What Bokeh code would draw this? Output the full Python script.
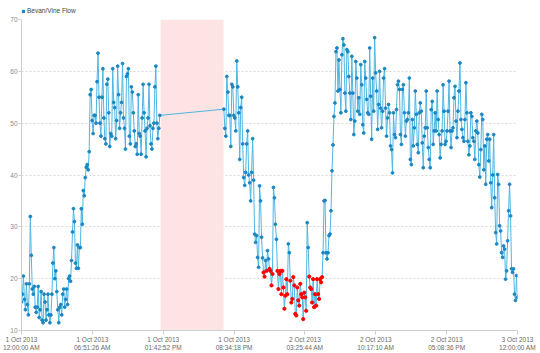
import numpy as np
import pandas as pd
from bokeh.plotting import figure
from bokeh.layouts import column
from bokeh.models import (ColumnDataSource, Range1d, FixedTicker, BoxAnnotation,
                          Legend, LegendItem)
from bokeh.embed import file_html
from bokeh.resources import INLINE

SERIES_NAME = "Bevan/Vine Flow"

X_START = "2013-10-01 00:00:00"
X_END = "2013-10-03 00:00:00"

SEG1_START = "2013-10-01 00:00:00"
SEG1_END = "2013-10-01 13:23:00"
SEG1_VALUES = [
    15.5, 17, 20.5, 16, 14, 19, 15, 13, 19, 32, 24.5, 18, 17, 18.5, 14.5, 13.5,
    14.5, 18.5, 12.5, 14, 17.5, 12, 11.5, 17, 15.5, 12, 14, 17, 13, 11.5, 13, 17,
    23, 26, 20, 21.5, 17.5, 14, 11.5, 14.5, 15, 13, 17, 18, 14.5, 16, 18, 15,
    20, 20.5, 19.5, 23.5, 29, 33.5, 31, 23, 22, 26.5, 22, 26, 26, 33.5, 30.5, 37,
    36, 39.5, 41.5, 42, 41, 44.5, 55.5, 56.5, 50.5, 48, 51.5, 51.5, 50, 58, 63.5, 55,
    50, 47.5, 55, 60.5, 51, 47, 46, 57.5, 58.5, 52, 45.5, 48, 47.5, 60.5, 54, 53,
    47, 50.5, 61, 55.5, 49, 52, 54, 61.5, 51, 49, 45, 59, 59.5, 60.5, 47.5, 46,
    57, 56, 52, 48.5, 45.5, 46, 44, 55.5, 48, 47.5, 44, 51, 57.5, 52, 48.5, 43.5,
    49, 51, 57.5, 49.5, 46, 45, 49, 50, 57, 61, 50, 47, 49, 51.5,
]

SEG2_START = "2013-10-01 19:35:00"
SEG2_END = "2013-10-03 00:00:00"
SEG2_VALUES = [
    52.7, 49, 47.5, 59, 56, 51.5, 51.5, 45.5, 57.5, 57, 51.5, 51, 48.5, 62, 57, 52,
    43, 53, 55, 46,
    39.5, 38, 40.5, 46, 48.5, 40, 38.5, 35, 40.5, 47, 39,
    28.6, 27, 28.3, 24.1, 22.2, 37.9, 35, 28, 24, 21.2, 20.4, 23.5, 21.5, 25.4, 23.8,
    21.9, 21.5, 18.7, 20.9,
    37.6, 35.6, 30.5, 27.6, 21.5, 18, 20.9, 21.5, 17, 21.5, 18.3, 14.2, 16.7, 19.9,
    17, 26.7, 25, 19.6, 15.4, 16.1, 20.3, 18.7, 13.2, 12.9, 18.3, 15.8, 14.8, 19,
    17, 16.4, 12.2, 17.3, 16.4, 13.8, 30.8, 26, 20.4, 18.3, 18, 15.4, 19.9, 14.5,
    17, 14.8, 19.9, 17, 16.1, 19.9, 19.3, 20.3, 25, 35, 35.1, 25, 23.8, 25, 28.3,
    28.6, 33.1, 40.8,
    45.8, 51.3, 53.9, 63.8, 64.5, 56.2, 62.2, 56.5, 52, 63.2, 66.3, 65.1, 55.8, 52.3,
    64.2, 63.8, 59, 55.8, 50.7, 62.9, 55.8, 47.8, 50.4, 61.9, 58.7, 52.3, 54.9, 51.7,
    61.3, 57.4, 49.7, 48.1, 61.9, 58.7, 54.6, 52, 51.7, 64.5, 55.2, 46.9, 58.7, 52.3,
    66.5, 59.7, 56.2, 48.8, 53.6, 60, 52.9, 49.1, 52.3, 58.7, 60.5, 52.9, 47.5, 51,
    53.6, 52, 45.6, 44.9, 40.4, 52, 47.8, 47.2, 52.6, 57.4, 58.1, 56.5, 47.8, 45.9,
    56.5, 57.4, 52, 47.5, 50.4, 50.7, 52, 58.7, 43, 42, 50.7, 45.6, 49.1, 56.2,
    51.7, 45.9, 44.3, 52, 53.9, 52.3, 46.2, 41.4, 47.5, 49.1, 56.2, 49.1, 45.3, 43,
    41.4, 52.6, 54.2, 45.9, 48.5, 52, 48.5, 56.2, 50.7, 47.8, 43.3, 45.9, 48.5, 57.4,
    52.3, 45.9, 46.5, 48.5, 52.3, 58.1, 48.5, 45.3, 48.5, 49.1, 54.9, 57.1, 50.4, 47.2,
    52.3, 56.2, 61.6, 50.7, 48.8, 47.2, 46.5, 50.7, 57.8, 52, 46.5, 43.9, 45.6, 52,
    51.3, 47.2, 46.5, 43, 48.5, 50.4, 48.1, 42, 39.6, 44.9, 51.7, 50.7, 41, 45.6,
    38.2, 46.9, 47.8, 42.7, 46.9,
    38.5, 33.7, 40, 47.8, 35.6, 28.9, 26.7, 40.1, 38.2, 30.2, 29.2, 25, 24.1, 26.3,
    25.7, 19.9, 21.5, 27.3, 33.1, 38.2, 32.1, 21.9, 21.2, 21.9, 17, 15.8, 20.6, 16.4,
]

# shaded (no-data) period
BAND_START = "2013-10-01 13:28:00"
BAND_END = "2013-10-01 19:33:00"

# alarm highlighting: low readings in this window are shown in red
ALARM_START = "2013-10-01 22:00:00"
ALARM_END = "2013-10-02 06:00:00"
ALARM_LEVEL = 22.0

Y_TICKS = [10, 20, 30, 40, 50, 60, 70]
TICK_LABELS = [
    "1 Oct 2013\n12:00:00 AM", "1 Oct 2013\n06:51:26 AM", "1 Oct 2013\n01:42:52 PM",
    "1 Oct 2013\n08:34:18 PM", "2 Oct 2013\n03:25:44 AM", "2 Oct 2013\n10:17:10 AM",
    "2 Oct 2013\n05:08:36 PM", "3 Oct 2013\n12:00:00 AM",
]


def ms(s):
    return int(pd.Timestamp(s).value // 10**6)


t1 = np.linspace(ms(SEG1_START), ms(SEG1_END), len(SEG1_VALUES))
t2 = np.linspace(ms(SEG2_START), ms(SEG2_END), len(SEG2_VALUES))
t_all = np.concatenate([t1, t2])
v_all = np.array(SEG1_VALUES + SEG2_VALUES, dtype=float)

alarm = (t_all >= ms(ALARM_START)) & (t_all <= ms(ALARM_END)) & (v_all < ALARM_LEVEL)

src_all = ColumnDataSource(dict(t=t_all, v=v_all))
src_norm = ColumnDataSource(dict(t=t_all[~alarm], v=v_all[~alarm]))
src_alarm = ColumnDataSource(dict(t=t_all[alarm], v=v_all[alarm]))

LINE_COLOR = "#4db6e2"
MARK_COLOR = "#1a87c2"
FONT = "Liberation Sans"

# ---- legend strip (top) ----
LEG_H = 15
lf = figure(width=540, height=LEG_H, output_backend="svg", toolbar_location=None,
            x_range=Range1d(0, 1), y_range=Range1d(0, 1),
            x_axis_location=None, y_axis_location=None,
            min_border_left=0, min_border_right=0, min_border_top=0,
            min_border_bottom=0)
lf.outline_line_color = None
lf.grid.visible = False
# swatch-only renderer (NaN geometry: draws nothing, gives the legend its colour)
sq = lf.quad(left=[np.nan], right=[np.nan], top=[np.nan], bottom=[np.nan],
             fill_color=MARK_COLOR, line_color=None)
legend = Legend(items=[LegendItem(label=SERIES_NAME, renderers=[sq])],
                location=(0, 1), orientation="horizontal",
                padding=0, margin=0, spacing=0,
                glyph_width=4, glyph_height=4, label_standoff=2,
                label_height=6, label_width=10,
                label_text_font=FONT, label_text_font_size="6.5px",
                label_text_color="#444444",
                background_fill_alpha=0, border_line_color=None)
lf.add_layout(legend)

# ---- main chart ----
p = figure(width=540, height=353 - LEG_H, output_backend="svg", toolbar_location=None,
           x_axis_type="datetime",
           x_range=Range1d(ms(X_START), ms(X_END)), y_range=Range1d(10, 70),
           min_border_left=21, min_border_right=23, min_border_top=19 - LEG_H,
           min_border_bottom=23)
p.outline_line_color = None
p.background_fill_color = "white"

band = BoxAnnotation(left=ms(BAND_START), right=ms(BAND_END), fill_color="#fde3e3",
                     fill_alpha=1.0, line_color=None, level="underlay")
p.add_layout(band)

p.line("t", "v", source=src_all, line_color=LINE_COLOR, line_width=1)
p.scatter("t", "v", source=src_norm, size=2.8, color=MARK_COLOR)
p.scatter("t", "v", source=src_alarm, size=3.2, color="#ff0000")

tick_ms = [int(round(ms(X_START) + k * (ms(X_END) - ms(X_START)) / 7)) for k in range(8)]
xa = p.xaxis[0]
xa.ticker = FixedTicker(ticks=tick_ms, minor_ticks=[])
xa.major_label_overrides = {t: lab for t, lab in zip(tick_ms, TICK_LABELS)}
xa.major_label_text_font = FONT
xa.major_label_text_font_size = "6.5px"
xa.major_label_text_color = "#6a6a6a"
xa.major_label_standoff = 1
xa.major_tick_out = 4
xa.major_tick_in = 0
xa.minor_tick_out = 0
xa.axis_line_color = "#cfcfcf"
xa.major_tick_line_color = "#cfcfcf"

ya = p.yaxis[0]
ya.ticker = FixedTicker(ticks=Y_TICKS, minor_ticks=[])
ya.major_label_text_font = FONT
ya.major_label_text_font_size = "6.5px"
ya.major_label_text_color = "#8a8a8a"
ya.major_label_standoff = 1
ya.major_tick_out = 3
ya.major_tick_in = 0
ya.minor_tick_out = 0
ya.axis_line_color = "#cfcfcf"
ya.major_tick_line_color = "#cfcfcf"

p.xgrid.visible = False
p.ygrid.grid_line_color = "#d9d9d9"
p.ygrid.grid_line_dash = "2 2"
p.ygrid.grid_line_width = 1

layout = column(lf, p, spacing=0)
open("out.html", "w").write(file_html(layout, INLINE))
